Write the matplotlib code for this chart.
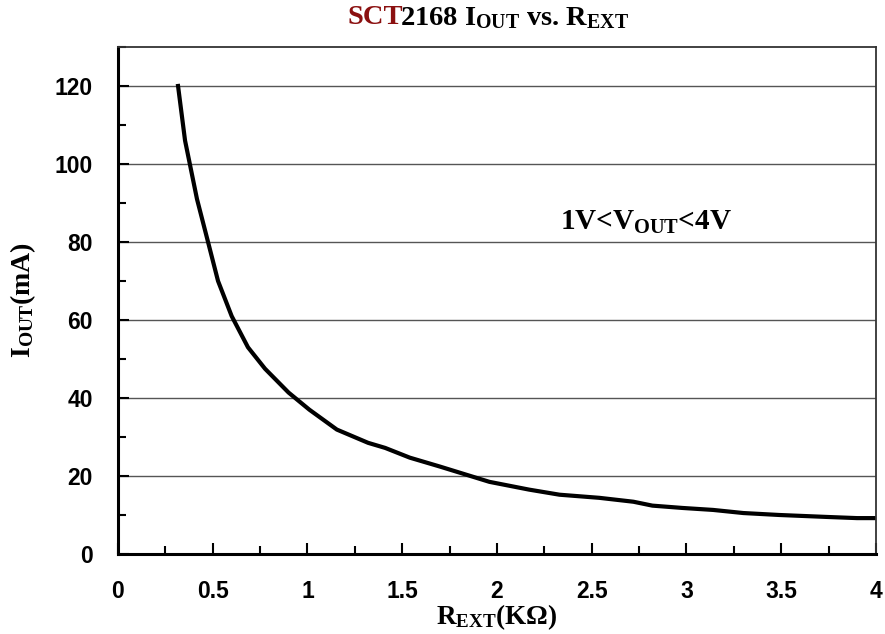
import matplotlib
matplotlib.use("Agg")
import matplotlib.pyplot as plt
from matplotlib.ticker import MultipleLocator

# R_EXT (kOhm) vs I_OUT (mA)
r_ext = [0.317, 0.354, 0.417, 0.47, 0.528, 0.60, 0.686, 0.776, 0.90, 1.01, 1.155,
         1.32, 1.41, 1.54, 1.70, 1.86, 1.96, 2.17, 2.33, 2.54, 2.72, 2.82, 2.98,
         3.14, 3.30, 3.49, 3.74, 3.90, 4.0]
i_out = [120, 106, 91, 81, 70, 61, 53, 47.5, 41.4, 37, 31.9,
         28.5, 27.2, 24.7, 22.4, 20, 18.5, 16.5, 15.2, 14.4, 13.4, 12.4, 11.8,
         11.3, 10.5, 10.0, 9.5, 9.2, 9.2]

x_ticks = [0, 0.5, 1, 1.5, 2, 2.5, 3, 3.5, 4]
x_labels = ["0", "0.5", "1", "1.5", "2", "2.5", "3", "3.5", "4"]
y_ticks = [0, 20, 40, 60, 80, 100, 120]

plt.rcParams['mathtext.fontset'] = 'custom'
plt.rcParams['mathtext.rm'] = 'Liberation Serif:bold'
plt.rcParams['mathtext.it'] = 'Liberation Serif:bold'
plt.rcParams['mathtext.bf'] = 'Liberation Serif:bold'

serif = dict(family='Liberation Serif', weight='bold')

fig = plt.figure(figsize=(8.85, 6.34), dpi=100)
ax = fig.add_axes([0.1333, 0.1262, 0.8565, 0.7997])

ax.plot(r_ext, i_out, color='black', lw=3)
ax.set_xlim(0, 4)
ax.set_ylim(0, 130)
ax.set_xticks(x_ticks)
ax.set_xticklabels(x_labels)
ax.set_yticks(y_ticks)
ax.xaxis.set_minor_locator(MultipleLocator(0.25))
ax.yaxis.set_minor_locator(MultipleLocator(10))
ax.grid(axis='y', which='major', color='#555555', lw=1)
ax.set_axisbelow(True)

ax.tick_params(which='both', direction='in', color='black', width=1.5)
ax.tick_params(which='major', length=8)
ax.tick_params(which='minor', length=6)
ax.tick_params(axis='x', pad=19)
ax.tick_params(axis='y', pad=18)
for lab in ax.get_xticklabels() + ax.get_yticklabels():
    lab.set_fontfamily('Liberation Sans')
    lab.set_fontweight('bold')
    lab.set_fontsize(16.5)

for s in ['left', 'bottom']:
    ax.spines[s].set_linewidth(2.2)
    ax.spines[s].set_color('black')
for s in ['top', 'right']:
    ax.spines[s].set_linewidth(1.3)
    ax.spines[s].set_color('#333333')

ax.set_xlabel(r'R$_{\mathrm{EXT}}$(KΩ)', fontsize=19.5, labelpad=-1, **serif)
ax.set_ylabel(r'I$_{\mathrm{OUT}}$(mA)', fontsize=20, labelpad=12, **serif)

ax.text(2.33, 85, r'1V<V$_{\mathrm{OUT}}$<4V', fontsize=21, va='center', ha='left', **serif)

# two-colour title
t1 = fig.text(0, 0.972, 'SCT', fontsize=20.5, color='#8B1010', va='center', **serif)
t2 = fig.text(0, 0.972, r'2168 I$_{\mathrm{OUT}}$ vs. R$_{\mathrm{EXT}}$', fontsize=20.5,
              color='black', va='center', **serif)
fig.canvas.draw()
r = fig.canvas.get_renderer()
w1 = t1.get_window_extent(r).width / fig.bbox.width
w2 = t2.get_window_extent(r).width / fig.bbox.width
gap = 3 / fig.bbox.width
x0 = 0.552 - (w1 + w2 - gap) / 2
t1.set_x(x0)
t2.set_x(x0 + w1 - gap)

fig.savefig('out.png', dpi=100)
